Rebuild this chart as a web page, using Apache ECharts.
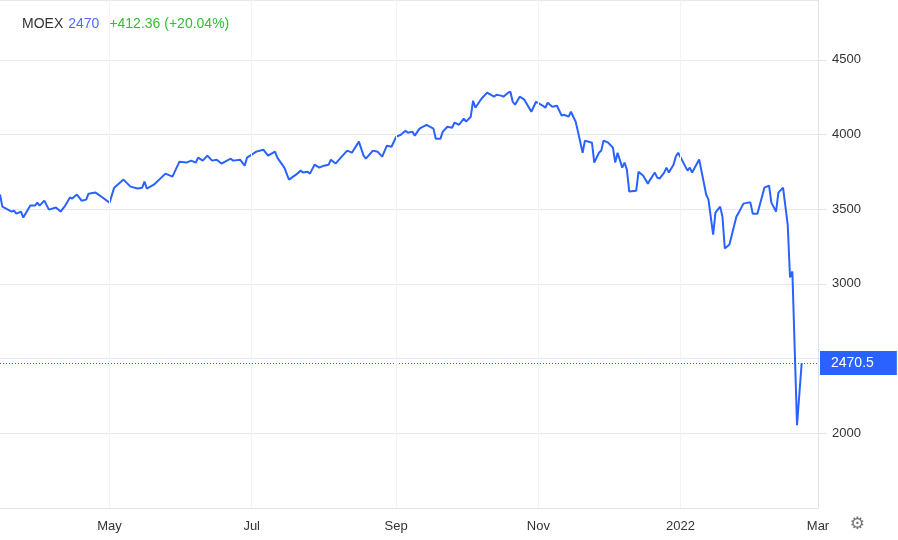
<!DOCTYPE html>
<html>
<head>
<meta charset="utf-8">
<title>MOEX</title>
<script src="https://cdn.jsdelivr.net/npm/echarts@6/dist/echarts.min.js"></script>
<style>
    html, body, #main { width: 100%; height: 100%; margin: 0; padding: 0; background: #fff; }
</style>
</head>
<body>
<div id="main"></div>
<script type="text/javascript">
// days after 2021-05-01
var dayOffsets = [-47, -46, -42, -41, -40, -38, -37, -34, -32, -31, -30, -28, -26, -23, -21, -19, -17, -16, -14, -12,
    -10, -9, -6, -3, 0, 2, 6, 9, 12, 14, 15, 16, 19, 24, 27, 30, 33, 35, 37, 38,
    40, 42, 44, 46, 48, 52, 53, 56, 58, 59, 63, 66, 68, 71, 72, 75, 77, 80, 82, 83,
    85, 86, 88, 90, 92, 94, 95, 97, 100, 102, 104, 107, 109, 110, 113, 115, 117, 119, 121, 123,
    125, 127, 128, 130, 131, 133, 136, 139, 140, 142, 143, 145, 147, 148, 150, 152, 153, 155, 156, 157,
    159, 160, 162, 165, 166, 168, 169, 171, 172, 173, 174, 176, 178, 179, 181, 183, 186, 187, 188, 190,
    192, 194, 195, 197, 198, 200, 201, 203, 204, 207, 208, 210, 211, 212, 214, 216, 217, 218, 220, 221,
    222, 223, 226, 227, 229, 231, 232, 234, 235, 236, 238, 239, 240, 242, 243, 244, 246, 248, 249, 250,
    253, 255, 256, 257, 259, 260, 262, 263, 264, 266, 269, 270, 272, 274, 275, 276, 278, 281, 283, 284,
    286, 287, 289, 291, 292, 293, 295, 297];
var closes = [3598, 3517, 3484, 3490, 3470, 3484, 3444, 3524, 3524, 3544, 3524, 3557, 3497, 3511, 3484, 3524, 3578, 3571, 3598, 3557,
    3564, 3604, 3611, 3578, 3544, 3644, 3698, 3651, 3638, 3644, 3685, 3638, 3664, 3738, 3718, 3818, 3812, 3825, 3812, 3845,
    3825, 3858, 3825, 3831, 3805, 3838, 3825, 3831, 3791, 3845, 3885, 3898, 3858, 3885, 3845, 3778, 3698, 3731, 3758, 3745,
    3751, 3738, 3798, 3778, 3791, 3798, 3831, 3805, 3858, 3892, 3878, 3952, 3858, 3838, 3892, 3885, 3852, 3925, 3918, 3985,
    3998, 4025, 4012, 4019, 3992, 4039, 4065, 4039, 3972, 3972, 4019, 4052, 4045, 4079, 4065, 4106, 4086, 4119, 4226, 4179,
    4226, 4246, 4280, 4253, 4266, 4260, 4253, 4280, 4286, 4219, 4199, 4253, 4233, 4206, 4152, 4219, 4192, 4179, 4212, 4186,
    4192, 4126, 4132, 4119, 4152, 4086, 4019, 3878, 3959, 3945, 3812, 3878, 3892, 3959, 3945, 3912, 3812, 3878, 3778, 3812,
    3765, 3618, 3624, 3751, 3724, 3671, 3698, 3745, 3711, 3705, 3745, 3778, 3745, 3798, 3852, 3878, 3818, 3758, 3778, 3745,
    3832, 3678, 3598, 3564, 3330, 3477, 3517, 3451, 3237, 3263, 3451, 3477, 3537, 3544, 3544, 3470, 3470, 3644, 3658, 3544,
    3484, 3611, 3644, 3397, 3043, 3083, 2054, 2470.5];
var lastPrice = 2470.5;
var header = { name: 'MOEX', price: '2470', change: '+412.36 (+20.04%)' };
var monthNames = ['Jan', 'Feb', 'Mar', 'Apr', 'May', 'Jun', 'Jul', 'Aug', 'Sep', 'Oct', 'Nov', 'Dec'];
var gridDates = ['2021-05-01', '2021-07-01', '2021-09-01', '2021-11-01', '2022-01-01'];

var DAY = 86400000;
var base = Date.UTC(2021, 4, 1);
var seriesData = dayOffsets.map(function (d, i) { return [base + d * DAY, closes[i]]; });

var chart = echarts.init(document.getElementById('main'));
chart.setOption({
    animation: false,
    textStyle: { fontFamily: 'Liberation Sans, Arial, sans-serif' },
    title: [{
        left: 17, top: 10,
        text: '{n|' + header.name + '} {p|' + header.price + '}  {c|' + header.change + '}',
        textStyle: {
            fontWeight: 'normal',
            rich: {
                n: { color: '#333', fontSize: 14 },
                p: { color: '#4d6bff', fontSize: 14 },
                c: { color: '#2fc12f', fontSize: 14 }
            }
        }
    }, {
        right: 28, bottom: 2,
        text: '⚙',
        textStyle: { color: '#777', fontSize: 17, fontWeight: 'normal', fontFamily: 'DejaVu Sans' }
    }],
    grid: { left: 0, right: 80, top: 0, bottom: 32 },
    xAxis: {
        type: 'time',
        min: base - 47 * DAY,
        max: base + 304 * DAY,
        axisLine: { lineStyle: { color: '#e0e3eb' } },
        axisTick: { show: false },
        splitLine: { show: false },
        axisLabel: {
            color: '#333', fontSize: 13, margin: 12,
            formatter: function (v) {
                var d = new Date(v);
                var m = d.getUTCMonth();
                if (m % 2 === 1) return '';
                return m === 0 ? String(d.getUTCFullYear()) : monthNames[m];
            }
        }
    },
    yAxis: {
        type: 'value',
        position: 'right',
        min: 1500, max: 4900, interval: 500,
        axisLine: { show: true, lineStyle: { color: '#e0e3eb' } },
        axisTick: { show: true, length: 8, lineStyle: { color: '#e0e3eb' } },
        splitLine: { lineStyle: { color: '#e6e8ee' } },
        axisLabel: {
            color: '#333', fontSize: 13, margin: 14, showMinLabel: false, showMaxLabel: false,
            formatter: function (v) { return String(v); }
        }
    },
    series: [{
        type: 'line',
        data: seriesData,
        showSymbol: false,
        lineStyle: { color: '#2962ff', width: 2 },
        itemStyle: { color: '#2962ff' },
        z: 3,
        markLine: {
            silent: true,
            symbol: 'none',
            lineStyle: { color: '#2962ff', type: [1, 2], width: 1, opacity: 1 },
            label: {
                position: 'end', distance: 2,
                formatter: String(lastPrice),
                color: '#fff', fontSize: 14,
                backgroundColor: '#2962ff',
                padding: [5, 23, 5, 11]
            },
            data: [{ yAxis: lastPrice }]
        }
    }, {
        type: 'line',
        data: [],
        z: 1,
        markLine: {
            silent: true,
            symbol: 'none',
            label: { show: false },
            lineStyle: { color: '#f0f3fa', type: 'solid', width: 1 },
            data: gridDates.map(function (s) { return { xAxis: s }; })
        }
    }]
});
</script>
</body>
</html>
